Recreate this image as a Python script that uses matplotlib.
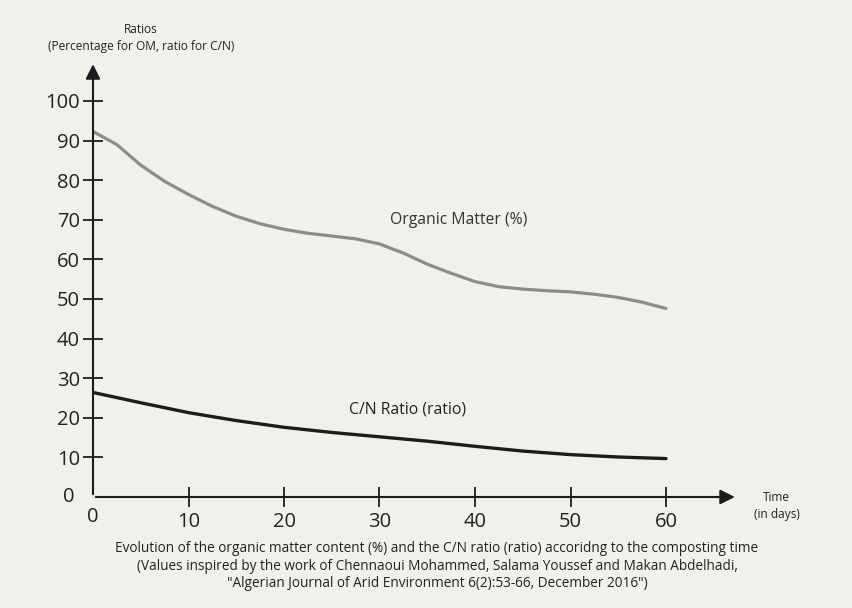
import matplotlib.pyplot as plt

# ================= DATA =================
om_days = [0, 2.5, 5, 7.5, 10, 12.5, 15, 17.5, 20, 22.5, 25, 27.5, 30,
           32.5, 35, 37.5, 40, 42.5, 45, 47.5, 50, 52.5, 55, 57.5, 60]
organic_matter = [92.3, 89.0, 83.8, 79.7, 76.4, 73.4, 70.9, 69.0, 67.6, 66.6, 65.9, 65.2, 63.9,
                  61.6, 58.8, 56.5, 54.4, 53.1, 52.5, 52.1, 51.8, 51.2, 50.4, 49.2, 47.6]

cn_days = [0, 5, 10, 15, 20, 25, 30, 35, 40, 45, 50, 55, 60]
cn_ratio = [26.4, 23.8, 21.3, 19.3, 17.6, 16.3, 15.2, 14.1, 12.8, 11.6, 10.7, 10.1, 9.7]

x_ticks = [10, 20, 30, 40, 50, 60]
y_ticks = [10, 20, 30, 40, 50, 60, 70, 80, 90, 100]

caption = ("Evolution of the organic matter content (%) and the C/N ratio (ratio) accoridng to the composting time\n"
           "(Values inspired by the work of Chennaoui Mohammed, Salama Youssef and Makan Abdelhadi,\n"
           "\"Algerian Journal of Arid Environment 6(2):53-66, December 2016\")")

plt.rcParams['font.family'] = ['Open Sans', 'DejaVu Sans']

bg = '#f2f0eb'
ink = '#1c1c1c'
txt = '#222222'

fig = plt.figure(figsize=(8.52, 6.08), dpi=100, facecolor=bg)
ax = fig.add_axes([93 / 852, (608 - 497) / 608, 668.5 / 852, 455.4 / 608])
ax.set_facecolor(bg)
ax.set_xlim(0, 70)
ax.set_ylim(0, 115)

for s in ax.spines.values():
    s.set_visible(False)

# ================= CURVES =================
ax.plot(om_days, organic_matter, color='#8c8c8c', lw=2.3, solid_capstyle='round', solid_joinstyle='round')
ax.plot(cn_days, cn_ratio, color=ink, lw=2.4, solid_capstyle='round', solid_joinstyle='round')

ax.text(38.3, 70, "Organic Matter (%)", fontsize=11.3, color='#333333', ha='center', va='center')
ax.text(32.9, 22, "C/N Ratio (ratio)", fontsize=11.3, color=txt, ha='center', va='center')

# ================= AXES WITH ARROWS =================
ax.annotate('', xy=(0, 110), xytext=(0, 0), clip_on=False,
            arrowprops=dict(arrowstyle='-|>', color=ink, lw=1.5, mutation_scale=22))
ax.annotate('', xy=(67.5, 0), xytext=(0, 0), clip_on=False,
            arrowprops=dict(arrowstyle='-|>', color=ink, lw=1.5, mutation_scale=22))

ax.set_xticks(x_ticks)
ax.set_yticks(y_ticks)
ax.tick_params(axis='both', direction='inout', length=15, width=1.3, color=ink,
               labelsize=14.5, labelcolor=txt)
ax.tick_params(axis='x', pad=3)
ax.tick_params(axis='y', pad=2)

ax.text(0, -2.6, "0", fontsize=14.5, color=txt, ha='center', va='top')
ax.text(-1.9, 0, "0", fontsize=14.5, color=txt, ha='right', va='center')

ax.text(5.0, 116, "Ratios\n(Percentage for OM, ratio for C/N)", fontsize=8.6, color=txt,
        ha='center', va='center', linespacing=1.4, clip_on=False)
ax.text(71.6, -2.2, "Time\n(in days)", fontsize=8.6, color=txt,
        ha='center', va='center', linespacing=1.4, clip_on=False)

fig.text(437 / 852, 1 - 566 / 608, caption, fontsize=9.8, color=txt,
         ha='center', va='center', linespacing=1.25)

fig.savefig('out.png', dpi=100, facecolor=bg)
